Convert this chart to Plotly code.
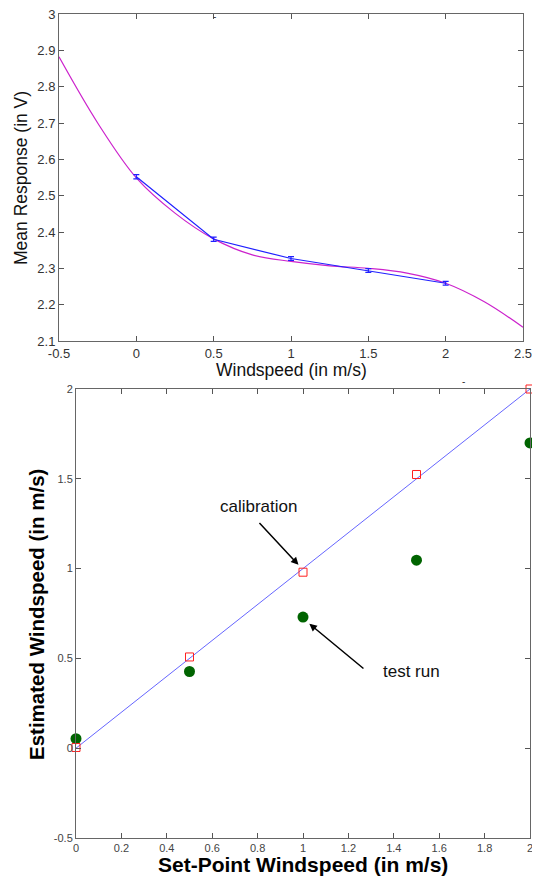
import plotly.graph_objects as go

# ---- top panel data ----
speed = [0, 0.5, 1, 1.5, 2]
mean_resp = [2.552, 2.380, 2.327, 2.294, 2.259]
resp_err = [0.006, 0.006, 0.005, 0.005, 0.005]

fit_x = [-0.5, -0.25, 0, 0.25, 0.5, 0.75, 1, 1.25, 1.5, 1.75, 2, 2.25, 2.5]
fit_y = [2.882, 2.700, 2.549, 2.452, 2.381, 2.337, 2.319, 2.307, 2.300, 2.287, 2.259, 2.208, 2.138]

top_xticks = [-0.5, 0, 0.5, 1, 1.5, 2, 2.5]
top_xtext = ["-0.5", "0", "0.5", "1", "1.5", "2", "2.5"]
top_yticks = [2.1, 2.2, 2.3, 2.4, 2.5, 2.6, 2.7, 2.8, 2.9, 3.0]
top_ytext = ["2.1", "2.2", "2.3", "2.4", "2.5", "2.6", "2.7", "2.8", "2.9", "3"]

# ---- bottom panel data ----
setpoint = [0, 0.5, 1, 1.5, 2]
calib_est = [0.004, 0.508, 0.980, 1.524, 2.000]
test_est = [0.053, 0.427, 0.730, 1.047, 1.700]
ident_x = [0, 2]
ident_y = [0, 2]

bot_xticks = [0, 0.2, 0.4, 0.6, 0.8, 1, 1.2, 1.4, 1.6, 1.8, 2]
bot_xtext = ["0", "0.2", "0.4", "0.6", "0.8", "1", "1.2", "1.4", "1.6", "1.8", "2"]
bot_yticks = [-0.5, 0, 0.5, 1, 1.5, 2]
bot_ytext = ["-0.5", "0", "0.5", "1", "1.5", "2"]

FONT = "Liberation Sans, Arial, sans-serif"
OFF = 8            # default page body margin
W, H = 540 - OFF, 882 - OFF

fig = go.Figure()

fig.add_trace(go.Scatter(
    x=fit_x, y=fit_y, mode="lines", line=dict(color="#cc22cc", width=1.2, shape="spline"),
    xaxis="x", yaxis="y", showlegend=False))
fig.add_trace(go.Scatter(
    x=speed, y=mean_resp, mode="lines", line=dict(color="#2020ff", width=1.2),
    error_y=dict(type="data", array=resp_err, color="#2020ff", thickness=1.2, width=3),
    xaxis="x", yaxis="y", showlegend=False))

fig.add_trace(go.Scatter(
    x=ident_x, y=ident_y, mode="lines", line=dict(color="#6666ff", width=1),
    xaxis="x2", yaxis="y2", showlegend=False, cliponaxis=False))
fig.add_trace(go.Scatter(
    x=setpoint, y=test_est, mode="markers",
    marker=dict(symbol="circle", size=11, color="#006400", line=dict(width=0)),
    xaxis="x2", yaxis="y2", showlegend=False, cliponaxis=False))
fig.add_trace(go.Scatter(
    x=setpoint, y=calib_est, mode="markers",
    marker=dict(symbol="square-open", size=8, color="#ff2020", line=dict(width=1)),
    xaxis="x2", yaxis="y2", showlegend=False, cliponaxis=False))

axis_common = dict(showline=True, linecolor="#666666", linewidth=1, mirror="allticks",
                   ticks="inside", ticklen=5, tickcolor="#555555", showgrid=False,
                   zeroline=False, automargin=False, ticklabeloverflow="allow")

def px(x):
    return (x - OFF) / W

def py(y):
    return 1 - (y - OFF) / H

fig.update_layout(
    width=W, height=H,
    margin=dict(l=0, r=0, t=0, b=0),
    paper_bgcolor="white", plot_bgcolor="white",
    font=dict(family=FONT, color="#222222"),
    xaxis=dict(domain=[px(59), px(523)], range=[-0.5, 2.5], anchor="y",
               tickvals=top_xticks, ticktext=top_xtext,
               tickfont=dict(size=13, color="#333333"), **axis_common),
    yaxis=dict(domain=[py(341), py(14)], range=[2.1, 3.0], anchor="x",
               tickvals=top_yticks, ticktext=top_ytext,
               tickfont=dict(size=13, color="#333333"), **axis_common),
    xaxis2=dict(domain=[px(76), px(530)], range=[0, 2], anchor="y2",
                tickvals=bot_xticks, ticktext=bot_xtext,
                tickfont=dict(size=11, color="#444444"), **axis_common),
    yaxis2=dict(domain=[py(838), py(389)], range=[-0.5, 2], anchor="x2",
                tickvals=bot_yticks, ticktext=bot_ytext,
                tickfont=dict(size=11, color="#444444"), **axis_common),
    annotations=[
        # axis titles
        dict(x=px(291), y=py(370), xref="paper", yref="paper", text="Windspeed (in m/s)",
             showarrow=False, font=dict(size=17.5, color="#111111"), xanchor="center", yanchor="middle"),
        dict(x=px(21), y=py(178), xref="paper", yref="paper", text="Mean Response (in V)",
             showarrow=False, textangle=-90, font=dict(size=17.5, color="#111111"),
             xanchor="center", yanchor="middle"),
        dict(x=px(303), y=py(864), xref="paper", yref="paper", text="<b>Set-Point Windspeed (in m/s)</b>",
             showarrow=False, font=dict(size=21, color="#000000"), xanchor="center", yanchor="middle"),
        dict(x=px(36), y=py(615), xref="paper", yref="paper", text="<b>Estimated Windspeed (in m/s)</b>",
             showarrow=False, textangle=-90, font=dict(size=20.5, color="#000000"),
             xanchor="center", yanchor="middle"),
        # arrows and labels
        dict(x=0.98, y=1.021, xref="x2", yref="y2", ax=0.802, ay=1.262, axref="x2", ayref="y2",
             showarrow=True, arrowhead=2, arrowsize=1, arrowwidth=1.5, arrowcolor="#000000", text=""),
        dict(x=0.805, y=1.345, xref="x2", yref="y2", text="calibration", showarrow=False,
             font=dict(size=17, color="#111111")),
        dict(x=1.028, y=0.693, xref="x2", yref="y2", ax=1.273, ay=0.437, axref="x2", ayref="y2",
             showarrow=True, arrowhead=2, arrowsize=1, arrowwidth=1.5, arrowcolor="#000000", text=""),
        dict(x=1.478, y=0.427, xref="x2", yref="y2", text="test run", showarrow=False,
             font=dict(size=17, color="#111111")),
        # stray title marks
        dict(x=px(214), y=py(9), xref="paper", yref="paper", text="-", showarrow=False,
             font=dict(size=10, color="#333333"), yanchor="top"),
        dict(x=px(467), y=py(381), xref="paper", yref="paper", text="-", showarrow=False,
             font=dict(size=10, color="#333333")),
    ],
)

fig.write_html("out.html")
